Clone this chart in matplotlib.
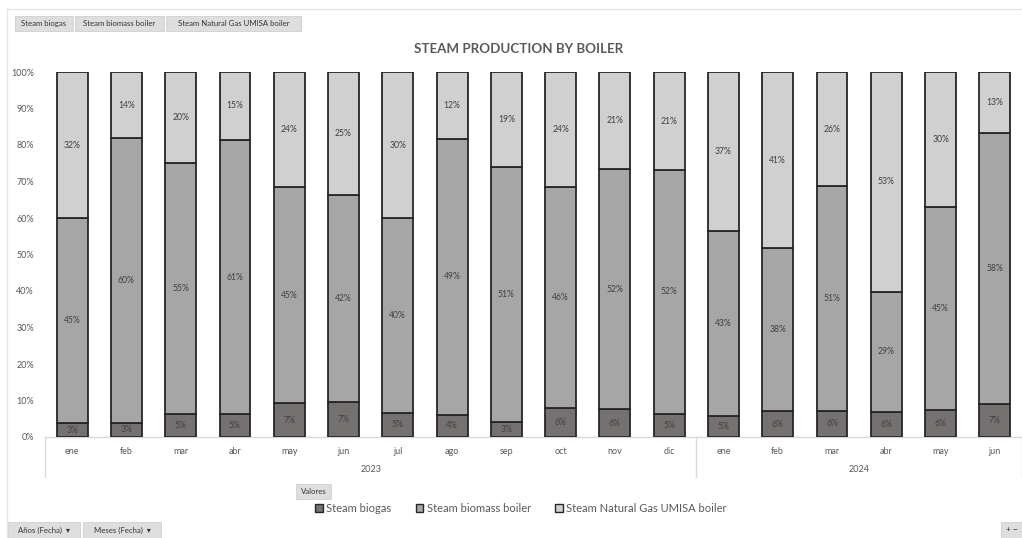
import matplotlib
matplotlib.use("Agg")
import matplotlib.pyplot as plt
import matplotlib.transforms as mtransforms
from matplotlib.patches import Rectangle

# ---- data -------------------------------------------------------------
months = ["ene", "feb", "mar", "abr", "may", "jun", "jul", "ago", "sep", "oct", "nov", "dic",
          "ene", "feb", "mar", "abr", "may", "jun"]
years = ["2023", "2024"]
months_per_year = [12, 6]
series_names = ["Steam biogas", "Steam biomass boiler", "Steam Natural Gas UMISA boiler"]
biogas = [3, 3, 5, 5, 7, 7, 5, 4, 3, 6, 6, 5, 5, 6, 6, 6, 6, 7]
biomass = [45, 60, 55, 61, 45, 42, 40, 49, 51, 46, 52, 52, 43, 38, 51, 29, 45, 58]
natural_gas = [32, 14, 20, 15, 24, 25, 30, 12, 19, 24, 21, 21, 37, 41, 26, 53, 30, 13]
y_ticks = [0, 10, 20, 30, 40, 50, 60, 70, 80, 90, 100]

colors = ["#767171", "#a6a6a6", "#d0d0d0"]
edge = "#262626"
text_grey = "#595959"

plt.rcParams["font.family"] = ["Lato", "DejaVu Sans"]

W, H = 1022, 538
fig = plt.figure(figsize=(W / 100, H / 100), dpi=100)
fig.patch.set_facecolor("white")


def fx(px):
    return px / W


def fy(py):
    return 1 - py / H


# plot area
ax_left, ax_right, ax_top, ax_bottom = 45, 1022, 72, 437
ax = fig.add_axes([fx(ax_left), fy(ax_bottom), fx(ax_right - ax_left), (ax_bottom - ax_top) / H])

series = [biogas, biomass, natural_gas]
n = len(months)
x = list(range(n))
totals = [sum(s[i] for s in series) for i in range(n)]
bottoms = [0.0] * n
for vals, col, name in zip(series, colors, series_names):
    shares = [v / t * 100 for v, t in zip(vals, totals)]
    ax.bar(x, shares, bottom=bottoms, width=0.57, color=col, edgecolor=edge,
           linewidth=1.3, label=name, zorder=3)
    for i in range(n):
        ax.text(x[i], bottoms[i] + shares[i] / 2, f"{vals[i]}%", ha="center", va="center",
                fontsize=6.2, color="#404040", zorder=4)
    bottoms = [b + s for b, s in zip(bottoms, shares)]

ax.set_xlim(-0.5, n - 0.5)
ax.set_ylim(0, 100)
ax.set_yticks(y_ticks)
ax.set_yticklabels([f"{t}%" for t in y_ticks])
ax.tick_params(axis="y", length=0, labelsize=6.5, labelcolor=text_grey, pad=8)
ax.set_xticks([])
for sp in ax.spines.values():
    sp.set_visible(False)

# multi-level category axis
tr = mtransforms.blended_transform_factory(ax.transData, fig.transFigure)
axis_line = "#d9d9d9"
ax.plot([-0.5, n - 0.5], [fy(ax_bottom)] * 2, transform=tr, color=axis_line, lw=1,
        clip_on=False, zorder=1)
for i, m in enumerate(months):
    ax.text(i, fy(451), m, transform=tr, ha="center", va="center", fontsize=6.5,
            color=text_grey)
start = 0
boundaries = [-0.5]
for yr, cnt in zip(years, months_per_year):
    ax.text(start + (cnt - 1) / 2, fy(470), yr, transform=tr, ha="center", va="center",
            fontsize=6.5, color=text_grey)
    start += cnt
    boundaries.append(start - 0.5)
for b in boundaries:
    ax.plot([b, b], [fy(ax_bottom), fy(477)], transform=tr, color=axis_line, lw=1,
            clip_on=False, zorder=1)

# title
fig.text(fx(519), fy(49), "STEAM PRODUCTION BY BOILER", ha="center", va="center",
         fontsize=9.6, fontweight="bold", color=text_grey)

# chart frame lines
fig.add_artist(plt.Line2D([fx(7), 1], [fy(9), fy(9)], color="#e6e6e6", lw=1))
fig.add_artist(plt.Line2D([fx(7), fx(7)], [fy(9), 0], color="#e6e6e6", lw=1))


def button(x0, y0, x1, y1, label, size=5.6):
    fig.add_artist(Rectangle((fx(x0), fy(y1)), fx(x1 - x0), (y1 - y0) / H,
                             facecolor="#dedede", edgecolor="#d0d0d0", lw=0.6))
    fig.text(fx((x0 + x1) / 2), fy((y0 + y1) / 2), label, ha="center", va="center",
             fontsize=size, color="#333333")


# field buttons
button(15, 16, 73, 31, "Steam biogas")
button(75, 16, 164, 31, "Steam biomass boiler")
button(166, 16, 301, 31, "Steam Natural Gas UMISA boiler")
button(296, 484, 331, 499, "Valores")
button(8, 522, 80, 538, "Años (Fecha)  ▾")
button(83, 522, 161, 538, "Meses (Fecha)  ▾")
button(1001, 522, 1022, 538, "+ −", size=6)

# legend
handles = [Rectangle((0, 0), 1, 1, facecolor=c, edgecolor=edge, lw=1.0) for c in colors]
fig.legend(handles, series_names, loc="center", bbox_to_anchor=(fx(521), fy(508)),
           ncol=3, frameon=False, fontsize=8, handlelength=0.7, handleheight=0.7,
           handletextpad=0.3, columnspacing=2.2, labelcolor=text_grey)

fig.savefig("out.png", dpi=100, facecolor="white")
